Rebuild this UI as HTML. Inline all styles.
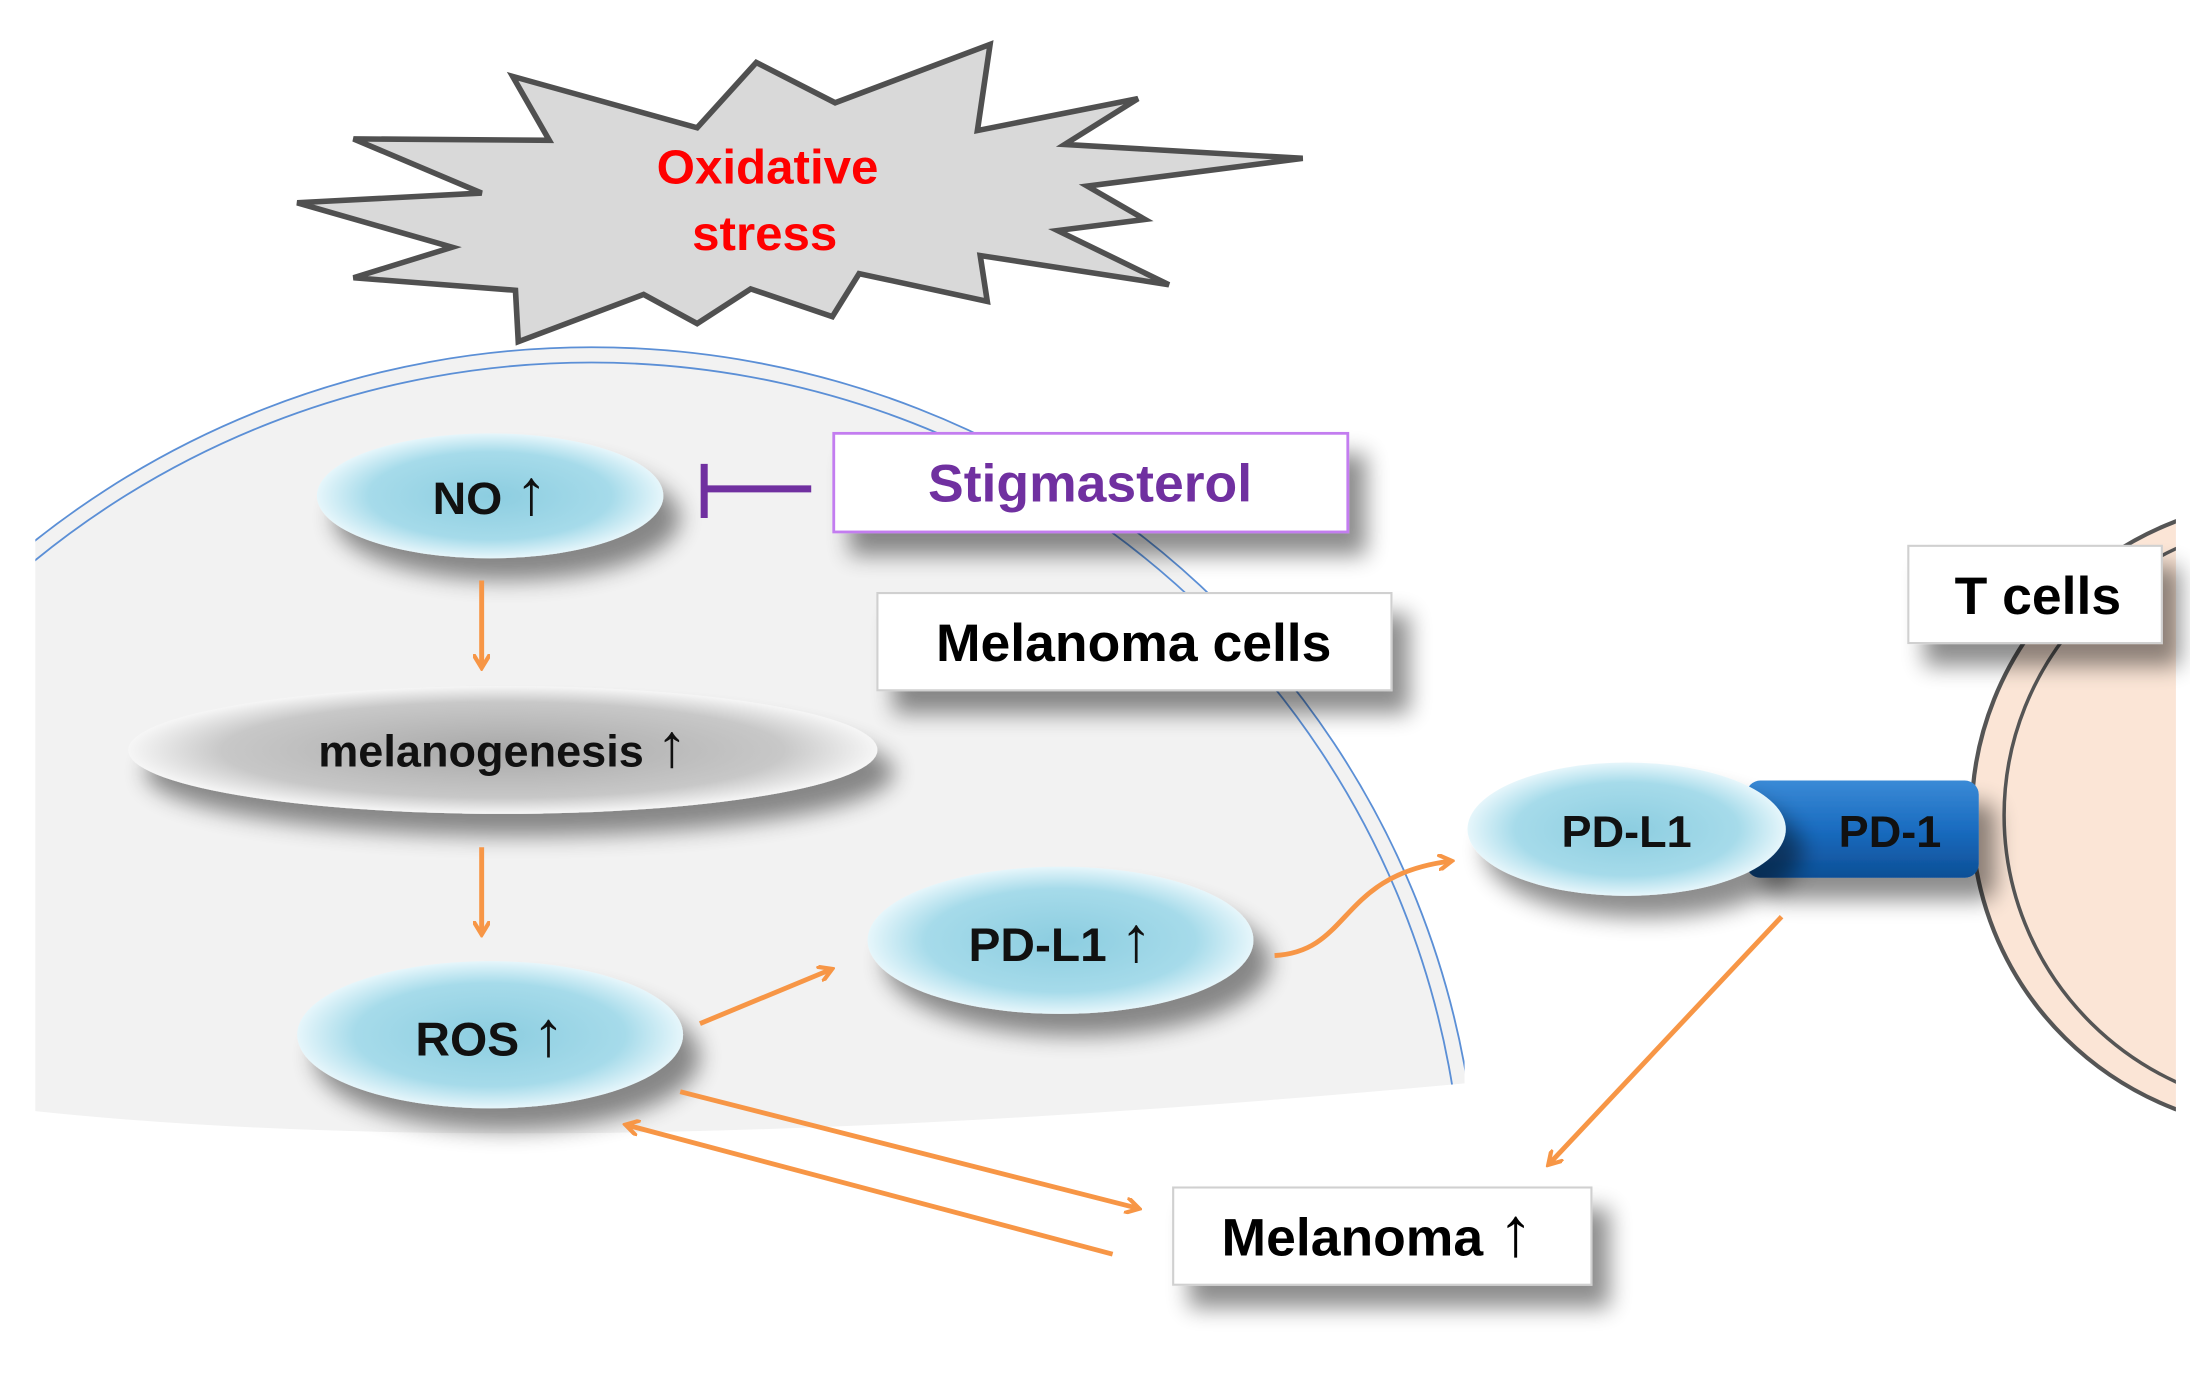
<!DOCTYPE html>
<html><head><meta charset="utf-8"><style>html,body{margin:0;padding:0;background:#fff;overflow:hidden;width:2190px;height:1375px}svg{display:block}</style></head>
<body>
<svg width="2190" height="1375" viewBox="0 0 1555 990" preserveAspectRatio="none" xmlns="http://www.w3.org/2000/svg" font-family="Liberation Sans, Arial, sans-serif" font-weight="bold">
<defs>
<radialGradient id="blue" cx="50%" cy="50%" r="50%">
<stop offset="0" stop-color="#8ccde0"/><stop offset="0.7" stop-color="#a6dbea"/><stop offset="1" stop-color="#e6f6fb"/></radialGradient>
<radialGradient id="gray" cx="50%" cy="50%" r="50%">
<stop offset="0" stop-color="#a8a8a8"/><stop offset="0.75" stop-color="#c8c8c8"/><stop offset="1" stop-color="#f6f6f6"/></radialGradient>
<linearGradient id="pd1" x1="0" y1="0" x2="0" y2="1">
<stop offset="0" stop-color="#3a8ad6"/><stop offset="0.5" stop-color="#1a6cc0"/><stop offset="1" stop-color="#0d4f96"/></linearGradient>
<filter id="sh" x="-30%" y="-30%" width="160%" height="180%"><feGaussianBlur in="SourceAlpha" stdDeviation="8"/><feOffset dx="12" dy="16"/><feComponentTransfer><feFuncA type="linear" slope="0.45"/></feComponentTransfer><feMerge><feMergeNode/><feMergeNode in="SourceGraphic"/></feMerge></filter>
<clipPath id="cellclip"><path d="M25 0 H1040 V780 Q400 840 25 800 Z"/></clipPath>
<clipPath id="tclip"><rect x="0" y="0" width="1545" height="990"/></clipPath>
<marker id="ar" markerWidth="12" markerHeight="12" refX="9" refY="6" orient="auto" markerUnits="userSpaceOnUse"><path d="M0 0 L10 6 L0 12" fill="none" stroke="#f79646" stroke-width="3"/></marker>
</defs>
<polygon points="364,55 495,92 537,45 593,74 703,32 694,94 808,71 756,104 925,114 772,134 813,158 751,166 830,205 696,184 701,217 610,197 591,228 533,208 495,233 457,212 368,246 366,209 251,200 321,178 211,146 342,139 251,100 390,101" fill="#d9d9d9" stroke="#505050" stroke-width="4" stroke-linejoin="miter"/>
<text x="545" y="132" font-size="35" fill="#ff0000" text-anchor="middle">Oxidative</text>
<text x="543" y="180" font-size="35" fill="#ff0000" text-anchor="middle">stress</text>
<g clip-path="url(#cellclip)">
<circle cx="420" cy="880" r="630" fill="#f2f2f2"/>
<circle cx="420" cy="880" r="630" fill="none" stroke="#5b8fd6" stroke-width="1.3"/>
<circle cx="420" cy="880" r="619" fill="none" stroke="#5b8fd6" stroke-width="1.3"/>
</g>
<g clip-path="url(#tclip)">
<circle cx="1627" cy="587" r="227" fill="#fbe5d6" stroke="#555" stroke-width="3"/>
<circle cx="1635" cy="587" r="212" fill="none" stroke="#555" stroke-width="2.5"/>
</g>
<rect x="1240" y="562" width="165" height="70" rx="10" fill="url(#pd1)" filter="url(#sh)"/>
<text x="1342" y="610" font-size="32" fill="#111" text-anchor="middle">PD-1</text>
<ellipse cx="348" cy="357" rx="123" ry="45" fill="url(#blue)" filter="url(#sh)"/>
<text x="348" y="370" font-size="33" fill="#111" text-anchor="middle">NO <tspan font-size="46" font-weight="normal">↑</tspan></text>
<ellipse cx="357" cy="540" rx="266" ry="46" fill="url(#gray)" filter="url(#sh)"/>
<text x="357" y="552" font-size="32" fill="#111" text-anchor="middle">melanogenesis <tspan font-size="44" font-weight="normal">↑</tspan></text>
<ellipse cx="348" cy="745" rx="137" ry="53" fill="url(#blue)" filter="url(#sh)"/>
<text x="348" y="760" font-size="34" fill="#111" text-anchor="middle">ROS <tspan font-size="46" font-weight="normal">↑</tspan></text>
<ellipse cx="753" cy="677" rx="137" ry="53" fill="url(#blue)" filter="url(#sh)"/>
<text x="753" y="692" font-size="34" fill="#111" text-anchor="middle">PD-L1 <tspan font-size="46" font-weight="normal">↑</tspan></text>
<ellipse cx="1155" cy="597" rx="113" ry="48" fill="url(#blue)" filter="url(#sh)"/>
<text x="1155" y="610" font-size="32" fill="#111" text-anchor="middle">PD-L1</text>
<rect x="592" y="312" width="365" height="71" fill="#fff" stroke="#c37df0" stroke-width="2" filter="url(#sh)"/>
<text x="774" y="361" font-size="38" fill="#7030a0" text-anchor="middle">Stigmasterol</text>
<rect x="623" y="427" width="365" height="70" fill="#fff" stroke="#d0d0d0" stroke-width="1.5" filter="url(#sh)"/>
<text x="805" y="476" font-size="38" fill="#000" text-anchor="middle">Melanoma cells</text>
<rect x="1355" y="393" width="180" height="70" fill="#fff" stroke="#d0d0d0" stroke-width="1.5" filter="url(#sh)"/>
<text x="1447" y="442" font-size="38" fill="#000" text-anchor="middle">T cells</text>
<rect x="833" y="855" width="297" height="70" fill="#fff" stroke="#d0d0d0" stroke-width="1.5" filter="url(#sh)"/>
<text x="978" y="904" font-size="38" fill="#000" text-anchor="middle">Melanoma <tspan font-size="50" font-weight="normal">↑</tspan></text>
<line x1="576" y1="352" x2="500" y2="352" stroke="#7030a0" stroke-width="5"/>
<line x1="500" y1="334" x2="500" y2="373" stroke="#7030a0" stroke-width="5"/>
<g stroke="#f79646" stroke-width="3.5" fill="none" marker-end="url(#ar)">
<line x1="342" y1="418" x2="342" y2="480"/>
<line x1="342" y1="610" x2="342" y2="672"/>
<line x1="497" y1="737" x2="590" y2="698"/>
<path d="M905 688 C960 685 950 630 1030 620"/>
<line x1="1265" y1="660" x2="1100" y2="838"/>
<line x1="483" y1="786" x2="808" y2="870"/>
<line x1="790" y1="903" x2="445" y2="810"/>
</g>
</svg>
</body></html>
